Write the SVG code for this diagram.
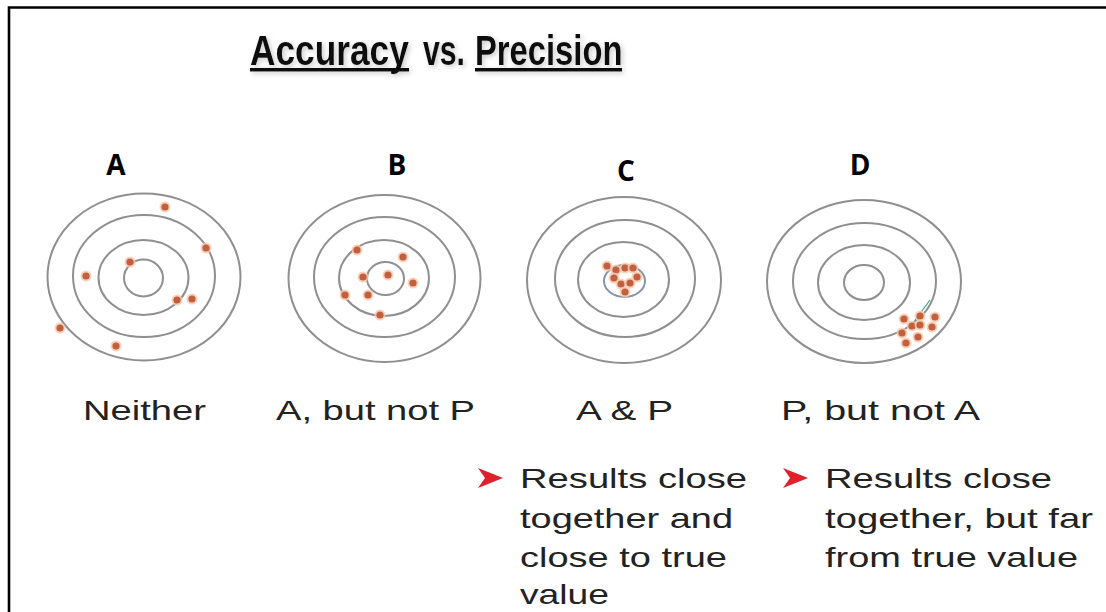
<svg xmlns="http://www.w3.org/2000/svg" width="1106" height="612" viewBox="0 0 1106 612">
<style>
.ring{fill:none;stroke:#8f8f8f;stroke-width:2}
.halo{fill:#f7c7ad;opacity:.8}
.dot{fill:#c0603f}
.title{font-family:"Liberation Sans",Arial,sans-serif;font-weight:bold;font-size:42px;fill:#111}
.lbl{font-family:"Open Sans","Liberation Sans",sans-serif;font-weight:bold;font-size:28px;fill:#000}
.cap{font-family:"Liberation Sans",Arial,sans-serif;font-size:28px;fill:#222}
.arrow{fill:#e0202a}
</style>
<defs>
<filter id="sh" x="-5%" y="-30%" width="110%" height="160%">
<feGaussianBlur in="SourceAlpha" stdDeviation="2.5"/>
<feOffset dx="2" dy="2" result="b"/>
<feFlood flood-color="#888" flood-opacity=".45"/>
<feComposite in2="b" operator="in"/>
<feMerge><feMergeNode/><feMergeNode in="SourceGraphic"/></feMerge>
</filter>
<g id="d"><circle r="5.5" class="halo"/><circle r="3.6" class="dot"/></g>
<path id="arr" d="M0,0 L25,10 L0,20 L7,10 Z"/>
</defs>
<rect width="1106" height="612" fill="#fff"/>
<path d="M9,612 V7.5 H1106" fill="none" stroke="#000" stroke-width="2.6"/>

<g id="title" filter="url(#sh)">
<text class="title" transform="translate(250,65) scale(0.84,1)">Accuracy</text>
<text class="title" transform="translate(423,65) scale(0.72,1)">vs.</text>
<text class="title" transform="translate(475,65) scale(0.78,1)">Precision</text>
<rect x="250" y="68" width="159" height="3.5" fill="#111"/>
<rect x="475" y="68" width="147" height="3.5" fill="#111"/>
</g>

<g id="label-A"><text class="lbl" x="116" y="175" text-anchor="middle">A</text></g>
<g id="label-B"><text class="lbl" x="397" y="175" text-anchor="middle">B</text></g>
<g id="label-C"><text class="lbl" x="626" y="181" text-anchor="middle">C</text></g>
<g id="label-D"><text class="lbl" x="860" y="175" text-anchor="middle">D</text></g>

<g id="target-A">
<ellipse class="ring" cx="144" cy="277" rx="96.5" ry="83.5"/>
<ellipse class="ring" cx="144" cy="276" rx="71" ry="61"/>
<ellipse class="ring" cx="143.5" cy="277.5" rx="45" ry="37.5"/>
<ellipse class="ring" cx="143.5" cy="278" rx="19.5" ry="18.5"/>
<use href="#d" x="165" y="207"/><use href="#d" x="206" y="248"/><use href="#d" x="130" y="262"/><use href="#d" x="86" y="276"/>
<use href="#d" x="177" y="300"/><use href="#d" x="192" y="299"/><use href="#d" x="60" y="328"/><use href="#d" x="116" y="346"/>
</g>

<g id="target-B">
<ellipse class="ring" cx="384.5" cy="278.5" rx="96" ry="83.5"/>
<ellipse class="ring" cx="384.5" cy="277" rx="70.5" ry="60"/>
<ellipse class="ring" cx="384" cy="278" rx="45" ry="38"/>
<ellipse class="ring" cx="385.5" cy="278.5" rx="18.5" ry="16.5"/>
<use href="#d" x="357" y="250"/><use href="#d" x="403" y="257"/><use href="#d" x="388" y="275"/><use href="#d" x="363" y="277"/>
<use href="#d" x="413" y="283"/><use href="#d" x="345" y="295"/><use href="#d" x="368" y="295"/><use href="#d" x="380" y="315"/>
</g>

<g id="target-C">
<ellipse class="ring" cx="624" cy="280" rx="97" ry="83"/>
<ellipse class="ring" cx="625" cy="278.5" rx="70" ry="58.5"/>
<ellipse class="ring" cx="623.5" cy="279.5" rx="45.5" ry="37.5"/>
<ellipse class="ring" cx="624.5" cy="281" rx="20.5" ry="16" style="stroke:#8595a8"/>
<use href="#d" x="607" y="266"/><use href="#d" x="616" y="270"/><use href="#d" x="625" y="268"/><use href="#d" x="633" y="268"/>
<use href="#d" x="614" y="278"/><use href="#d" x="621" y="284"/><use href="#d" x="630" y="283"/><use href="#d" x="625" y="292"/>
<use href="#d" x="637" y="277"/>
</g>

<g id="target-D">
<ellipse class="ring" cx="864" cy="281.5" rx="97" ry="81.5"/>
<ellipse class="ring" cx="864.5" cy="281" rx="71.5" ry="58"/>
<ellipse class="ring" cx="864" cy="282.5" rx="46" ry="37.5"/>
<ellipse class="ring" cx="864" cy="282.5" rx="20" ry="17.5"/>
<line x1="930" y1="300" x2="910" y2="327" stroke="#3aa88a" stroke-width="1.2"/>
<use href="#d" x="904" y="319"/><use href="#d" x="920" y="316"/><use href="#d" x="935" y="317"/><use href="#d" x="912" y="326"/>
<use href="#d" x="920" y="325"/><use href="#d" x="932" y="327"/><use href="#d" x="902" y="333"/><use href="#d" x="918" y="337"/>
<use href="#d" x="906" y="343"/>
</g>

<g id="caption-A"><text class="cap" x="83" y="420" textLength="123" lengthAdjust="spacingAndGlyphs">Neither</text></g>
<g id="caption-B"><text class="cap" x="276" y="420" textLength="199" lengthAdjust="spacingAndGlyphs">A, but not P</text></g>
<g id="caption-C"><text class="cap" x="576" y="420" textLength="97" lengthAdjust="spacingAndGlyphs">A &amp; P</text></g>
<g id="caption-D"><text class="cap" x="781" y="420" textLength="199" lengthAdjust="spacingAndGlyphs">P, but not A</text></g>

<g id="bullet-C">
<use href="#arr" class="arrow" x="478" y="468"/>
<text class="cap" x="520" y="488" textLength="227" lengthAdjust="spacingAndGlyphs">Results close</text>
<text class="cap" x="520" y="528" textLength="213" lengthAdjust="spacingAndGlyphs">together and</text>
<text class="cap" x="520" y="567" textLength="207" lengthAdjust="spacingAndGlyphs">close to true</text>
<text class="cap" x="520" y="604" textLength="89" lengthAdjust="spacingAndGlyphs">value</text>
</g>

<g id="bullet-D">
<use href="#arr" class="arrow" x="783" y="468"/>
<text class="cap" x="825" y="488" textLength="227" lengthAdjust="spacingAndGlyphs">Results close</text>
<text class="cap" x="825" y="528" textLength="268" lengthAdjust="spacingAndGlyphs">together, but far</text>
<text class="cap" x="825" y="567" textLength="253" lengthAdjust="spacingAndGlyphs">from true value</text>
</g>
</svg>
